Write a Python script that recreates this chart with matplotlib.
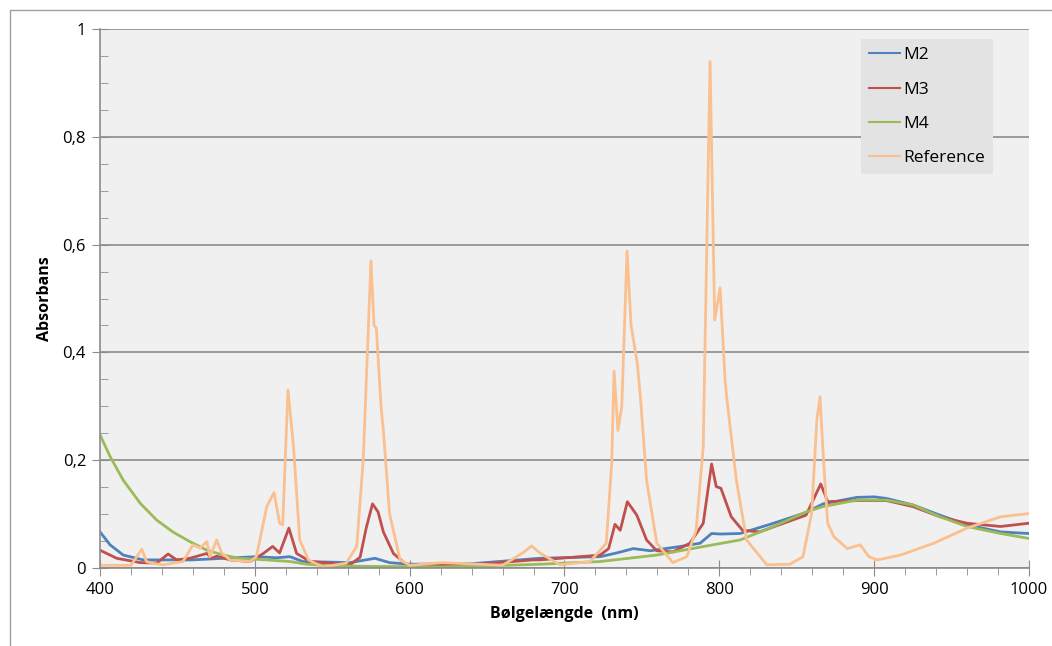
import numpy as np
import matplotlib
matplotlib.use("Agg")
import matplotlib.pyplot as plt
import matplotlib.ticker as tck
from matplotlib.patches import Rectangle

plt.rcParams.update({"font.family": ["Open Sans", "DejaVu Sans"], "font.size": 11})

# M2
m2_nm = [400, 406.5, 415, 428, 459, 501, 514, 522.7, 531, 561.5, 577.6, 587, 600, 640, 684,
         723, 733.8, 744.5, 755.4, 775, 787.6, 795, 800.5, 813.4, 835, 856, 867, 888.7, 900,
         908, 925, 942.5, 960, 981.6, 999.7]
m2_abs = [0.067, 0.043, 0.024, 0.015, 0.015, 0.021, 0.019, 0.021, 0.012, 0.010, 0.018, 0.010,
          0.007, 0.008, 0.018, 0.021, 0.028, 0.036, 0.032, 0.040, 0.046, 0.064, 0.063, 0.064,
          0.083, 0.103, 0.119, 0.131, 0.132, 0.129, 0.117, 0.098, 0.080, 0.067, 0.064]

# M3
m3_nm = [400, 410.8, 426, 436.6, 444, 449.5, 458, 469, 472, 475.4, 484, 497, 505.5, 511.5, 516,
         522, 527, 535.6, 561.5, 568, 572, 576, 579.6, 583, 589.5, 598, 608, 640, 679.7, 684,
         723, 728.5, 732.6, 736, 740.6, 746.7, 753, 759.6, 770, 781, 789.6, 795, 798, 801,
         807.7, 815, 826, 856, 865.5, 870, 888.7, 908, 925, 942.5, 960, 981.6, 999.7]
m3_abs = [0.033, 0.018, 0.010, 0.009, 0.026, 0.015, 0.018, 0.027, 0.018, 0.022, 0.015, 0.012,
          0.027, 0.040, 0.028, 0.074, 0.027, 0.012, 0.006, 0.020, 0.075, 0.119, 0.104, 0.067,
          0.027, 0.006, 0.004, 0.006, 0.015, 0.015, 0.024, 0.036, 0.081, 0.070, 0.123, 0.098,
          0.052, 0.032, 0.030, 0.046, 0.083, 0.193, 0.151, 0.148, 0.095, 0.070, 0.067, 0.098,
          0.156, 0.123, 0.125, 0.125, 0.114, 0.095, 0.083, 0.077, 0.083]

# M4
m4_nm = [400, 406.5, 415, 426, 436.6, 447, 458, 469, 479.6, 490, 507.7, 522.7, 533.5, 548.5,
         577, 620, 652, 684, 723, 759.6, 792, 813.4, 835, 856, 867, 888.7, 908, 925, 942.5,
         960, 981.6, 999.7]
m4_abs = [0.247, 0.207, 0.163, 0.120, 0.089, 0.067, 0.049, 0.033, 0.024, 0.018, 0.015, 0.012,
          0.007, 0.004, 0.003, 0.002, 0.004, 0.007, 0.012, 0.024, 0.041, 0.052, 0.077, 0.104,
          0.114, 0.126, 0.126, 0.117, 0.095, 0.077, 0.064, 0.055]

# Reference
ref_nm = [400, 420, 427, 430, 435, 441, 453.6, 460, 464.6, 469, 471, 475.4, 478.6, 484, 497,
          501, 507.7, 512.4, 516, 518, 521.4, 525, 529, 534.6, 544, 559, 565.8, 570, 575,
          577, 578.5, 581.5, 583, 587, 593.8, 600, 621, 660, 673, 678.8, 684, 697, 716.5, 727,
          730.5, 732, 734.5, 737, 740.4, 743, 747, 749, 753, 759.6, 770, 779, 785, 789.6,
          794, 797, 800.5, 803.7, 804.7, 811, 817.6, 830.6, 845.6, 854, 859.6, 863, 865,
          867.4, 870, 874, 882.6, 891, 896.6, 902, 917, 938.5, 960, 981.6, 999.7]
ref_abs = [0.005, 0.005, 0.035, 0.012, 0.008, 0.006, 0.012, 0.043, 0.037, 0.049, 0.021, 0.052,
           0.028, 0.015, 0.012, 0.021, 0.114, 0.140, 0.083, 0.080, 0.330, 0.225, 0.052, 0.015,
           0.002, 0.009, 0.040, 0.200, 0.570, 0.450, 0.445, 0.300, 0.256, 0.101, 0.015, 0.005,
           0.010, 0.005, 0.028, 0.041, 0.028, 0.006, 0.012, 0.046, 0.195, 0.365, 0.255, 0.300,
           0.588, 0.450, 0.380, 0.318, 0.163, 0.046, 0.010, 0.021, 0.070, 0.225, 0.940, 0.460,
           0.520, 0.349, 0.318, 0.163, 0.052, 0.006, 0.007, 0.021, 0.101, 0.275, 0.318, 0.195,
           0.083, 0.058, 0.036, 0.043, 0.021, 0.015, 0.024, 0.046, 0.074, 0.095, 0.101]

fig = plt.figure(figsize=(10.52, 6.46), dpi=100)
ax = fig.add_axes([100 / 1052, 1 - 568 / 646, 929 / 1052, 539 / 646])
ax.set_facecolor("#f0f0f0")

ax.plot(m2_nm, m2_abs, color="#4f81bd", lw=2, label="M2")
ax.plot(m3_nm, m3_abs, color="#c0504d", lw=2, label="M3")
ax.plot(m4_nm, m4_abs, color="#9bbb59", lw=2, label="M4")
ax.plot(ref_nm, ref_abs, color="#fac090", lw=2, label="Reference")

ax.set_xlim(400, 1000)
ax.set_ylim(0, 1)
ax.set_xticks(np.arange(400, 1001, 100))
ax.set_yticks(np.arange(0, 1.01, 0.2))
ax.set_yticklabels(["0", "0,2", "0,4", "0,6", "0,8", "1"])
ax.xaxis.set_minor_locator(tck.MultipleLocator(20))
ax.yaxis.set_minor_locator(tck.MultipleLocator(0.05))
ax.grid(axis="y", which="major", color="#8c8c8c", lw=1.2)
ax.set_axisbelow(True)

for s in ["top", "right"]:
    ax.spines[s].set_visible(False)
for s in ["left", "bottom"]:
    ax.spines[s].set_color("#8c8c8c")
    ax.spines[s].set_linewidth(1.2)

ax.tick_params(axis="both", which="major", direction="inout", length=12, color="#8c8c8c",
               labelsize=12, pad=4)
ax.tick_params(axis="y", which="minor", direction="in", length=6, color="#8c8c8c")
ax.tick_params(axis="x", which="minor", direction="out", length=5, color="#8c8c8c")

ax.set_xlabel("Bølgelængde  (nm)", fontsize=11.5, fontweight="bold", labelpad=6)
ax.set_ylabel("Absorbans", fontsize=11.5, fontweight="bold", labelpad=7)

leg = ax.legend(loc="upper left", bbox_to_anchor=(0.819, 0.981), fontsize=12.5,
                frameon=True, fancybox=False, borderaxespad=0, handlelength=1.8,
                handletextpad=0.2, labelspacing=1.05, borderpad=0.45)
leg.get_frame().set_facecolor("#e3e3e3")
leg.get_frame().set_edgecolor("none")
leg.get_frame().set_alpha(1)
for line in leg.get_lines():
    line.set_linewidth(1.5)

fig.patches.append(Rectangle((10 / 1052, -0.1), 1.2, 1 - 10 / 646 + 0.1,
                             transform=fig.transFigure, fill=False,
                             edgecolor="#a0a0a0", lw=1))

fig.savefig("out.png", dpi=100)
